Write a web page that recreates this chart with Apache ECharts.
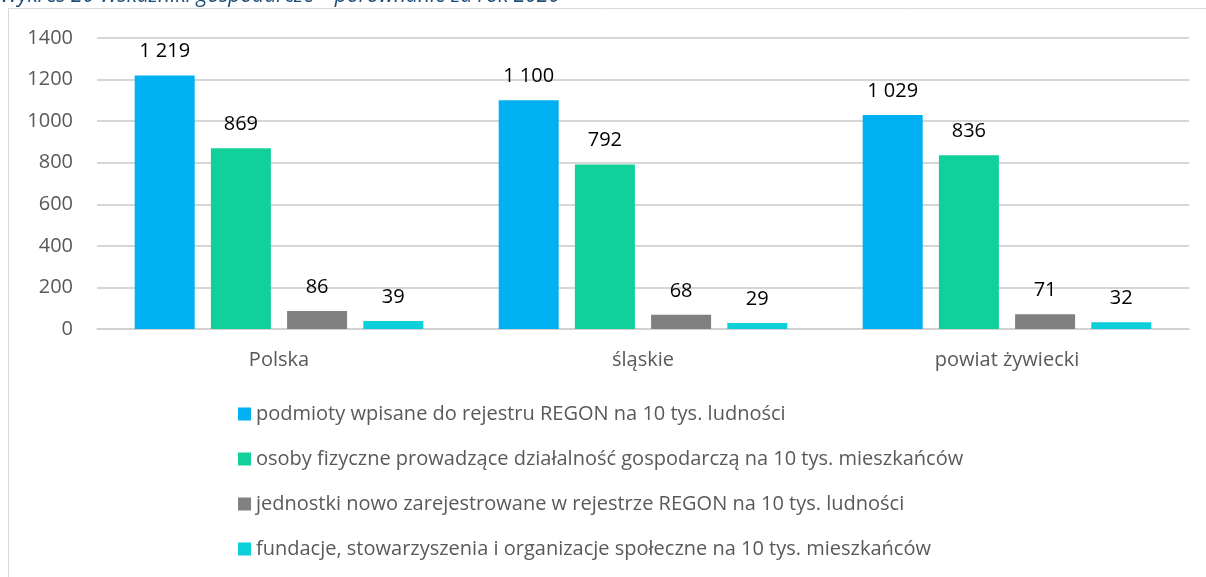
<!DOCTYPE html>
<html>
<head>
<meta charset="utf-8">
<script src="https://cdn.jsdelivr.net/npm/echarts@6/dist/echarts.min.js"></script>
<style>
  html, body { margin: 0; padding: 0; background: #fff; }
  #chart { width: 1206px; height: 577px; }
</style>
</head>
<body>
<div id="chart"></div>
<script>
var categories = ['Polska', 'śląskie', 'powiat żywiecki'];
var seriesNames = [
  'podmioty wpisane do rejestru REGON na 10 tys. ludności',
  'osoby fizyczne prowadzące działalność gospodarczą na 10 tys. mieszkańców',
  'jednostki nowo zarejestrowane w rejestrze REGON na 10 tys. ludności',
  'fundacje, stowarzyszenia i organizacje społeczne na 10 tys. mieszkańców'
];
var regonValues = [1219, 1100, 1029];
var osobyValues = [869, 792, 836];
var noweValues = [86, 68, 71];
var fundacjeValues = [39, 29, 32];
var colors = ['#00b0f0', '#12d09b', '#808080', '#0bcfd9'];

var font = 'Open Sans';

function fmt(v) {
  return String(v).replace(/\B(?=(\d{3})+(?!\d))/g, ' ');
}

function makeSeries(name, data, color) {
  return {
    name: name,
    type: 'bar',
    data: data,
    barWidth: 60,
    barGap: '27%',
    itemStyle: { color: color },
    label: {
      show: true,
      position: 'top',
      distance: 14,
      color: '#000',
      fontFamily: font,
      fontSize: 20,
      formatter: function (p) { return fmt(p.value); }
    }
  };
}

var chart = echarts.init(document.getElementById('chart'));
chart.setOption({
  animation: false,
  backgroundColor: '#fff',
  graphic: [
    {
      type: 'rect',
      shape: { x: 8.5, y: 8.5, width: 1400, height: 700 },
      style: { fill: 'none', stroke: '#d9d9d9', lineWidth: 1 },
      silent: true
    },
    {
      type: 'text',
      x: 0,
      y: -14,
      style: {
        text: 'Wykres 20 Wskaźniki gospodarcze – porównanie za rok 2020',
        fill: '#1f4e79',
        fontFamily: font,
        fontStyle: 'italic',
        fontSize: 21
      },
      silent: true
    }
  ],
  grid: { left: 97, right: 17, top: 38, bottom: 248 },
  legend: {
    orient: 'vertical',
    left: 238,
    top: 404,
    padding: 0,
    itemWidth: 13,
    itemHeight: 13,
    itemGap: 25,
    icon: 'rect',
    textStyle: { color: '#595959', fontFamily: font, fontSize: 20 },
    data: seriesNames
  },
  xAxis: {
    type: 'category',
    data: categories,
    axisLine: { lineStyle: { color: '#d0d0d0', width: 1.5 } },
    axisTick: { show: false },
    axisLabel: { color: '#595959', fontFamily: font, fontSize: 20, margin: 21 }
  },
  yAxis: {
    type: 'value',
    min: 0,
    max: 1400,
    interval: 200,
    axisLine: { show: false },
    axisTick: { show: false },
    splitLine: { lineStyle: { color: '#c8c8c8', width: 1.5 } },
    axisLabel: {
      color: '#595959',
      fontFamily: font,
      fontSize: 20,
      margin: 24,
      formatter: function (v) { return String(v); }
    }
  },
  series: [
    makeSeries(seriesNames[0], regonValues, colors[0]),
    makeSeries(seriesNames[1], osobyValues, colors[1]),
    makeSeries(seriesNames[2], noweValues, colors[2]),
    makeSeries(seriesNames[3], fundacjeValues, colors[3])
  ]
});
</script>
</body>
</html>
